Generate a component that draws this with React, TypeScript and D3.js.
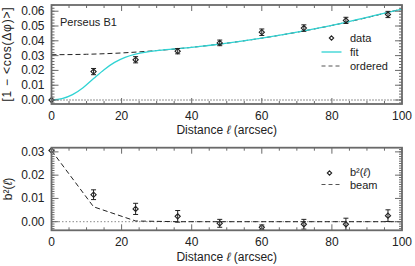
import React from "react";
import * as d3 from "d3";

const W = 415;
const H = 266;

// Top panel data
const topL = [0, 12, 24, 36, 48, 60, 72, 84, 96];
const topV = [0, 0.0192, 0.0272, 0.033, 0.0386, 0.0458, 0.0486, 0.0538, 0.0578];
const topErr = [0, 0.0021, 0.0021, 0.0018, 0.0019, 0.0022, 0.0022, 0.0021, 0.0021];

const fitL = [0, 3, 6, 9, 12, 15, 18, 21, 24, 27, 30, 36, 48, 60, 72, 84, 96, 100];
const fitV = [0, 0.0009, 0.0036, 0.0083, 0.0145, 0.0205, 0.0254, 0.0288, 0.031, 0.0324, 0.0334, 0.0347, 0.0378, 0.0418, 0.0467, 0.0525, 0.0592, 0.0614];

const ordL = [0, 10, 20, 30, 40, 50, 60, 70, 80, 90, 100];
const ordV = [0.0306, 0.0309, 0.0318, 0.0334, 0.0356, 0.0384, 0.0418, 0.0458, 0.0504, 0.0557, 0.0616];

// Bottom panel data
const b2L = [0, 12, 24, 36, 48, 60, 72, 84, 96];
const b2V = [0.0306, 0.0116, 0.0055, 0.0023, -0.0007, -0.0024, -0.0011, -0.0011, 0.0026];
const b2Err = [0, 0.0021, 0.0024, 0.0025, 0.0017, 0.001, 0.0021, 0.0026, 0.0025];

const beamL = [0, 12, 24, 36, 48, 60, 72, 84, 96, 100];
const beamV = [0.0306, 0.0064, 0.0003, 0, 0, 0, 0, 0, 0, 0];

const xTicks = [0, 20, 40, 60, 80, 100];
const topYTicks = [0, 0.01, 0.02, 0.03, 0.04, 0.05, 0.06];
const botYTicks = [0, 0.01, 0.02, 0.03];

const FONT = "'Liberation Sans', Arial, sans-serif";
const FRAME = "#6a6a6a";
const INK = "#222";
const CYAN = "#2fd3d3";

const x = d3.scaleLinear().domain([0, 100]).range([51.5, 402]);
const yTop = d3.scaleLinear().domain([-0.0027, 0.0642]).range([104, 5]);
const yBot = d3.scaleLinear().domain([-0.0037, 0.0318]).range([230.3, 147.7]);

function Frame({ y, yTicks, minorStep, xLabelY, titleY }: any) {
  const [y0, y1] = y.range();
  const xl = x.range()[0];
  const xr = x.range()[1];
  const dom = y.domain();
  const minors: number[] = [];
  for (let v = Math.ceil(dom[0] / minorStep) * minorStep; v <= dom[1] + 1e-9; v += minorStep) minors.push(v);
  const xMinor = d3.range(0, 101, 5);
  return (
    <g>
      {minors.map((v, i) => (
        <g key={"ym" + i}>
          <line x1={xl} x2={xl + 3} y1={y(v)} y2={y(v)} stroke={FRAME} strokeWidth={1} />
          <line x1={xr} x2={xr - 3} y1={y(v)} y2={y(v)} stroke={FRAME} strokeWidth={1} />
        </g>
      ))}
      {yTicks.map((v: number, i: number) => (
        <g key={"yt" + i}>
          <line x1={xl} x2={xl + 7} y1={y(v)} y2={y(v)} stroke={FRAME} strokeWidth={1} />
          <line x1={xr} x2={xr - 7} y1={y(v)} y2={y(v)} stroke={FRAME} strokeWidth={1} />
          <text x={44.5} y={y(v)} textAnchor="end" dominantBaseline="central" fontSize={12} fontFamily={FONT} fill={INK}>
            {d3.format(".2f")(v)}
          </text>
        </g>
      ))}
      {xMinor.map((v, i) => (
        <g key={"xm" + i}>
          <line x1={x(v)} x2={x(v)} y1={y0} y2={y0 - (v % 20 === 0 ? 6 : 3)} stroke={FRAME} strokeWidth={1} />
          <line x1={x(v)} x2={x(v)} y1={y1} y2={y1 + (v % 20 === 0 ? 6 : 3)} stroke={FRAME} strokeWidth={1} />
        </g>
      ))}
      {xTicks.map((v, i) => (
        <text key={"xt" + i} x={x(v)} y={xLabelY} textAnchor="middle" dominantBaseline="central" fontSize={12} fontFamily={FONT} fill={INK}>
          {v}
        </text>
      ))}
      <text x={(xl + xr) / 2} y={titleY} textAnchor="middle" dominantBaseline="central" fontSize={12} fontFamily={FONT} fill={INK}>
        Distance <tspan fontStyle="italic">ℓ</tspan> (arcsec)
      </text>
      <rect x={xl} y={y1} width={xr - xl} height={y0 - y1} fill="none" stroke={FRAME} strokeWidth={1.8} />
    </g>
  );
}

function Diamond({ cx, cy, r = 2.6 }: any) {
  return (
    <path d={`M${cx},${cy - r}L${cx + r},${cy}L${cx},${cy + r}L${cx - r},${cy}Z`} fill="none" stroke={INK} strokeWidth={1.1} />
  );
}

function ErrPts({ L, V, E, y }: any) {
  return (
    <g>
      {L.map((l: number, i: number) => {
        const cx = x(l);
        const cy = y(V[i]);
        const e = E[i];
        return (
          <g key={i}>
            {e > 0 && (
              <g stroke={INK} strokeWidth={1}>
                <line x1={cx} x2={cx} y1={y(V[i] - e)} y2={y(V[i] + e)} />
                <line x1={cx - 2.5} x2={cx + 2.5} y1={y(V[i] - e)} y2={y(V[i] - e)} />
                <line x1={cx - 2.5} x2={cx + 2.5} y1={y(V[i] + e)} y2={y(V[i] + e)} />
              </g>
            )}
            <Diamond cx={cx} cy={cy} />
          </g>
        );
      })}
    </g>
  );
}

export default function App() {
  const fitLine = d3
    .line<number>()
    .x((d, i) => x(fitL[i]))
    .y((d) => yTop(d))
    .curve(d3.curveMonotoneX);
  const ordLine = d3
    .line<number>()
    .x((d, i) => x(ordL[i]))
    .y((d) => yTop(d))
    .curve(d3.curveMonotoneX);
  const beamLine = d3
    .line<number>()
    .x((d, i) => x(beamL[i]))
    .y((d) => yBot(d));

  return (
    <svg width={W} height={H} style={{ position: "absolute", left: 0, top: 0, background: "#fff" }}>
      {/* Top panel */}
      <line x1={x(0)} x2={x(100)} y1={yTop(0)} y2={yTop(0)} stroke={INK} strokeWidth={1} strokeDasharray="1,2" />
      <path d={ordLine(ordV) || ""} fill="none" stroke={INK} strokeWidth={1} strokeDasharray="5,3" />
      <path d={fitLine(fitV) || ""} fill="none" stroke={CYAN} strokeWidth={1.3} />
      <ErrPts L={topL} V={topV} E={topErr} y={yTop} />
      <Frame y={yTop} yTicks={topYTicks} minorStep={0.002} xLabelY={116} titleY={129.5} />
      <text x={60} y={21.5} dominantBaseline="central" fontSize={11} fontFamily={FONT} fill={INK}>
        Perseus B1
      </text>
      {/* top legend */}
      <Diamond cx={331.5} cy={38} r={2.2} />
      <text x={350} y={38} dominantBaseline="central" fontSize={11} fontFamily={FONT} fill={INK}>data</text>
      <line x1={321.5} x2={341.5} y1={52} y2={52} stroke={CYAN} strokeWidth={1.3} />
      <text x={350} y={51.5} dominantBaseline="central" fontSize={11} fontFamily={FONT} fill={INK}>fit</text>
      <line x1={321.5} x2={341.5} y1={66} y2={66} stroke="#555" strokeWidth={1} strokeDasharray="4,3" />
      <text x={350} y={65.5} dominantBaseline="central" fontSize={11} fontFamily={FONT} fill={INK}>ordered</text>
      <text
        transform={`translate(7,${(yTop.range()[0] + yTop.range()[1]) / 2}) rotate(-90)`}
        textAnchor="middle"
        dominantBaseline="central"
        fontSize={12}
        fontFamily={FONT}
        fill={INK}
        textLength={94}
        lengthAdjust="spacing"
      >
        [1 − &lt;cos(Δφ)&gt;]
      </text>

      {/* Bottom panel */}
      <line x1={x(0)} x2={x(100)} y1={yBot(0)} y2={yBot(0)} stroke="#888" strokeWidth={1} strokeDasharray="1.5,2" />
      <path d={beamLine(beamV) || ""} fill="none" stroke={INK} strokeWidth={1} strokeDasharray="5,3" />
      <ErrPts L={b2L} V={b2V} E={b2Err} y={yBot} />
      <Frame y={yBot} yTicks={botYTicks} minorStep={0.001} xLabelY={242} titleY={256.5} />
      <Diamond cx={329.5} cy={173} r={2.2} />
      <text x={350} y={172} dominantBaseline="central" fontSize={11} fontFamily={FONT} fill={INK}>
        b²(<tspan fontStyle="italic">ℓ</tspan>)
      </text>
      <line x1={321.5} x2={341.5} y1={184.5} y2={184.5} stroke="#555" strokeWidth={1} strokeDasharray="4,3" />
      <text x={350} y={184.5} dominantBaseline="central" fontSize={11} fontFamily={FONT} fill={INK}>beam</text>
      <text
        transform={`translate(8,${(yBot.range()[0] + yBot.range()[1]) / 2}) rotate(-90)`}
        textAnchor="middle"
        dominantBaseline="central"
        fontSize={12}
        fontFamily={FONT}
        fill={INK}
      >
        b²(<tspan fontStyle="italic">ℓ</tspan>)
      </text>
    </svg>
  );
}
